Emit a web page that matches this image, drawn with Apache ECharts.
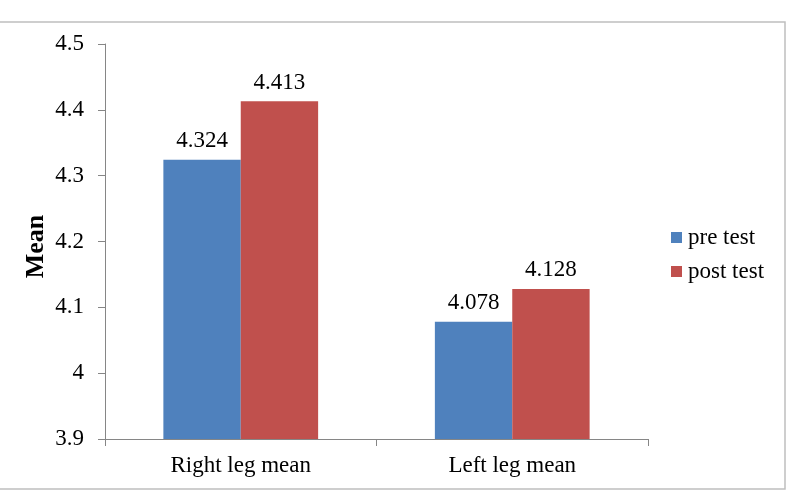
<!DOCTYPE html>
<html>
<head>
<meta charset="utf-8">
<script src="https://cdn.jsdelivr.net/npm/echarts@6/dist/echarts.min.js"></script>
<style>
  html, body { margin: 0; padding: 0; background: #fff; }
  #chart { width: 791px; height: 494px; }
</style>
</head>
<body>
<div id="chart"></div>
<script>
// data
const categories = ['Right leg mean', 'Left leg mean']
const preTest = [4.324, 4.078]
const postTest = [4.413, 4.128]

const serif = '"Liberation Serif", "Times New Roman", serif'
const axisGray = '#868686'

const chart = echarts.init(document.getElementById('chart'))
chart.setOption({
  animation: false,
  textStyle: { fontFamily: serif },
  graphic: [
    {
      type: 'rect',
      shape: { x: -2, y: 22, width: 787, height: 467 },
      style: { fill: 'none', stroke: '#bfbfbf', lineWidth: 1.5 },
      silent: true
    }
  ],
  legend: {
    orient: 'vertical',
    left: 671,
    top: 226,
    padding: 0,
    itemWidth: 11,
    itemHeight: 11,
    itemGap: 11,
    icon: 'rect',
    textStyle: { fontFamily: serif, fontSize: 23, color: '#000', padding: [0, 0, 0, 1] },
    data: ['pre test', 'post test']
  },
  grid: {
    left: 105,
    right: 143,
    top: 44,
    bottom: 55
  },
  xAxis: {
    type: 'category',
    data: categories,
    axisLine: { lineStyle: { color: axisGray, width: 1 } },
    axisTick: { show: true, length: 7, lineStyle: { color: axisGray } },
    axisLabel: { color: '#000', fontSize: 23, fontFamily: serif, margin: 15 }
  },
  yAxis: {
    type: 'value',
    min: 3.9,
    max: 4.5,
    interval: 0.1,
    name: 'Mean',
    nameLocation: 'middle',
    nameMoveOverlap: false,
    nameGap: 56,
    nameTextStyle: { fontFamily: serif, fontSize: 26, fontWeight: 'bold', color: '#000', padding: [0, 10, 0, 0] },
    axisLine: { show: true, lineStyle: { color: axisGray, width: 1 } },
    axisTick: { show: true, length: 7, lineStyle: { color: axisGray } },
    splitLine: { show: false },
    axisLabel: {
      color: '#000',
      fontSize: 23,
      fontFamily: serif,
      margin: 21,
      formatter: v => String(parseFloat(v.toFixed(1)))
    }
  },
  series: [
    {
      name: 'pre test',
      type: 'bar',
      data: preTest,
      barGap: '0%',
      barCategoryGap: '43%',
      itemStyle: { color: '#4F81BD' },
      label: { show: true, position: 'top', distance: 7, color: '#000', fontSize: 23, fontFamily: serif }
    },
    {
      name: 'post test',
      type: 'bar',
      data: postTest,
      barGap: '0%',
      barCategoryGap: '43%',
      itemStyle: { color: '#C0504D' },
      label: { show: true, position: 'top', distance: 7, color: '#000', fontSize: 23, fontFamily: serif }
    }
  ]
})
</script>
</body>
</html>
